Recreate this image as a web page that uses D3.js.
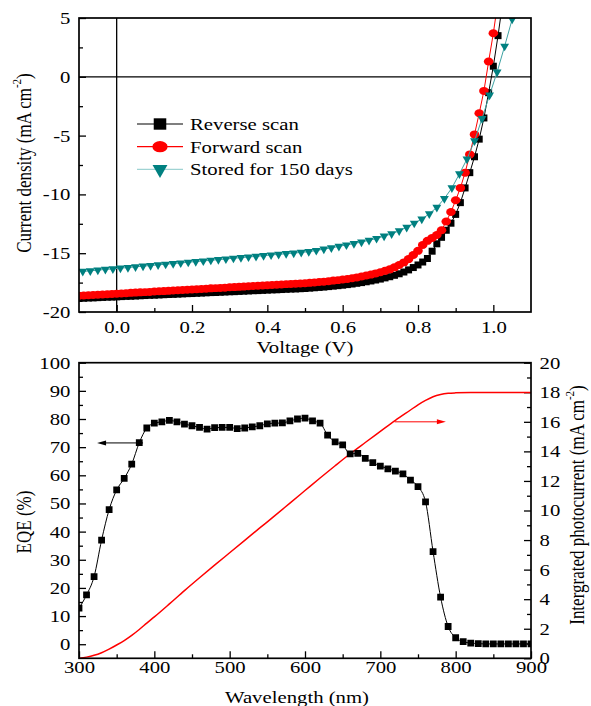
<!DOCTYPE html>
<html>
<head>
<meta charset="utf-8">
<style>
  body { margin: 0; background: #fff; }
  svg text { font-family: "Liberation Serif", "Times New Roman", serif; fill: #000; }
</style>
</head>
<body>
<div id="chart"></div>
<script src="https://cdn.jsdelivr.net/npm/d3@7/dist/d3.min.js"></script>
<script>
// ---- top panel: J-V curves ----
const VOLTAGE = [
  -0.1, -0.0875, -0.075, -0.0625, -0.05, -0.0375, -0.025, -0.0125,
  0, 0.0125, 0.025, 0.0375, 0.05, 0.0625, 0.075, 0.0875,
  0.1, 0.1125, 0.125, 0.1375, 0.15, 0.1625, 0.175, 0.1875,
  0.2, 0.2125, 0.225, 0.2375, 0.25, 0.2625, 0.275, 0.2875,
  0.3, 0.3125, 0.325, 0.3375, 0.35, 0.3625, 0.375, 0.3875,
  0.4, 0.4125, 0.425, 0.4375, 0.45, 0.4625, 0.475, 0.4875,
  0.5, 0.5125, 0.525, 0.5375, 0.55, 0.5625, 0.575, 0.5875,
  0.6, 0.6125, 0.625, 0.6375, 0.65, 0.6625, 0.675, 0.6875,
  0.7, 0.7125, 0.725, 0.7375, 0.75, 0.7625, 0.775, 0.7875,
  0.8, 0.8125, 0.825, 0.8375, 0.85, 0.8625, 0.875, 0.8875,
  0.9, 0.9125, 0.925, 0.9375, 0.95, 0.9625, 0.975, 0.9875,
  1.0, 1.0125, 1.025
];
const REVERSE_J = [
  -18.85, -18.83, -18.81, -18.80, -18.78, -18.76, -18.74, -18.73,
  -18.71, -18.69, -18.67, -18.66, -18.64, -18.62, -18.60, -18.58,
  -18.57, -18.55, -18.53, -18.51, -18.50, -18.48, -18.46, -18.44,
  -18.43, -18.41, -18.39, -18.37, -18.35, -18.34, -18.32, -18.30,
  -18.28, -18.27, -18.25, -18.23, -18.21, -18.19, -18.18, -18.16,
  -18.14, -18.12, -18.11, -18.09, -18.07, -18.05, -18.04, -18.02,
  -18.00, -17.97, -17.94, -17.91, -17.88, -17.84, -17.80, -17.76,
  -17.72, -17.67, -17.62, -17.56, -17.50, -17.43, -17.36, -17.28,
  -17.20, -17.10, -17.00, -16.88, -16.75, -16.60, -16.42, -16.22,
  -16.00, -15.75, -15.45, -14.83, -14.20, -13.65, -13.05, -12.45,
  -11.70, -10.70, -9.45, -8.15, -6.80, -5.30, -3.50, -1.35,
  0.90, 3.50, 6.40
];
const FORWARD_J = [
  -18.62, -18.60, -18.58, -18.55, -18.53, -18.51, -18.49, -18.46,
  -18.44, -18.42, -18.40, -18.37, -18.35, -18.33, -18.31, -18.29,
  -18.26, -18.24, -18.22, -18.20, -18.17, -18.15, -18.13, -18.11,
  -18.08, -18.06, -18.04, -18.02, -17.99, -17.97, -17.95, -17.93,
  -17.90, -17.88, -17.86, -17.84, -17.81, -17.79, -17.77, -17.75,
  -17.72, -17.70, -17.68, -17.66, -17.63, -17.61, -17.59, -17.57,
  -17.55, -17.52, -17.49, -17.45, -17.42, -17.38, -17.33, -17.29,
  -17.24, -17.19, -17.13, -17.06, -16.98, -16.90, -16.82, -16.72,
  -16.62, -16.50, -16.37, -16.20, -16.00, -15.78, -15.50, -15.15,
  -14.80, -14.30, -13.95, -13.70, -13.45, -13.05, -12.30, -11.50,
  -10.50, -9.45, -8.15, -6.60, -4.90, -3.10, -1.20, 1.30,
  3.70, 6.50, 9.50
];
const STORED_V = [
  -0.09, -0.07, -0.05, -0.03, -0.01, 0.01, 0.03, 0.05, 0.07, 0.09,
  0.11, 0.13, 0.15, 0.17, 0.19, 0.21, 0.23, 0.25, 0.27, 0.29,
  0.31, 0.33, 0.35, 0.37, 0.39, 0.41, 0.43, 0.45, 0.47, 0.49,
  0.51, 0.53, 0.55, 0.57, 0.59, 0.61, 0.63, 0.65, 0.67, 0.69,
  0.71, 0.73, 0.75, 0.77, 0.79, 0.81, 0.83, 0.85, 0.87, 0.89,
  0.91, 0.93, 0.95, 0.97, 0.99, 1.01, 1.03, 1.05
];
const STORED_J = [
  -16.55, -16.50, -16.44, -16.38, -16.33, -16.27, -16.22, -16.16, -16.10, -16.05,
  -15.99, -15.94, -15.88, -15.83, -15.77, -15.71, -15.66, -15.60, -15.55, -15.49,
  -15.43, -15.38, -15.32, -15.27, -15.21, -15.15, -15.10, -15.04, -14.99, -14.93,
  -14.87, -14.77, -14.65, -14.55, -14.42, -14.30, -14.18, -14.05, -13.90, -13.75,
  -13.55, -13.35, -13.10, -12.80, -12.45, -12.10, -11.65, -11.10, -10.35, -9.45,
  -8.25, -7.00, -5.45, -3.55, -1.55, 0.40, 2.60, 4.90
];
const JV_NAMES = ["Reverse scan", "Forward scan", "Stored for 150 days"];
const V_TICKS = [0, 0.2, 0.4, 0.6, 0.8, 1.0];
const V_MINOR = [0.1, 0.3, 0.5, 0.7, 0.9];
const J_TICKS = [5, 0, -5, -10, -15, -20];
const J_MINOR = [2.5, -2.5, -7.5, -12.5, -17.5];

// ---- bottom panel: EQE and integrated photocurrent ----
const WAVELENGTH = [
  300, 310, 320, 330, 340, 350, 360, 370, 380, 390,
  400, 410, 420, 430, 440, 450, 460, 470, 480, 490,
  500, 510, 520, 530, 540, 550, 560, 570, 580, 590,
  600, 610, 620, 630, 640, 650, 660, 670, 680, 690,
  700, 710, 720, 730, 740, 750, 760, 770, 780, 790,
  800, 810, 820, 830, 840, 850, 860, 870, 880, 890, 900
];
const EQE = [
  12.8, 17.5, 24.0, 37.0, 47.8, 54.8, 58.9, 64.0, 71.6, 76.8,
  78.5, 79.0, 79.5, 79.0, 78.2, 77.6, 77.0, 76.4, 76.9, 77.0,
  77.0, 76.6, 76.8, 77.2, 77.6, 78.3, 78.5, 78.6, 79.3, 80.0,
  80.3, 79.3, 78.5, 74.3, 71.9, 70.8, 67.6, 67.8, 66.0, 64.5,
  63.3, 62.3, 61.5, 60.5, 58.3, 56.0, 50.6, 32.9, 16.7, 6.3,
  2.3, 0.9, 0.4, 0.2, 0.1, 0.1, 0.1, 0.1, 0.1, 0.1, 0.1
];
const PHOTO_WL = [
  300, 310, 320, 330, 340, 350, 360, 370, 380, 390, 400,
  420, 440, 460, 480, 500, 520, 540, 560, 580, 600,
  620, 640, 660, 680, 700, 720, 740, 750, 760, 770,
  780, 790, 800, 820, 900
];
const PHOTO_J = [
  0, 0.08, 0.2, 0.38, 0.62, 0.9, 1.2, 1.55, 1.95, 2.38, 2.8,
  3.68, 4.58, 5.45, 6.3, 7.14, 7.98, 8.82, 9.65, 10.5, 11.35,
  12.2, 13.03, 13.84, 14.6, 15.35, 16.1, 16.8, 17.15, 17.45, 17.7,
  17.85, 17.93, 17.96, 17.98, 17.98
];
const WL_TICKS = [300, 400, 500, 600, 700, 800, 900];
const WL_MINOR = [350, 450, 550, 650, 750, 850];
const EQE_TICKS = [0, 10, 20, 30, 40, 50, 60, 70, 80, 90, 100];
const EQE_MINOR = [5, 15, 25, 35, 45, 55, 65, 75, 85, 95];
const PC_TICKS = [0, 2, 4, 6, 8, 10, 12, 14, 16, 18, 20];
const PC_MINOR = [1, 3, 5, 7, 9, 11, 13, 15, 17, 19];
// arrows: [from wavelength, to wavelength, level]
const EQE_ARROW = [385, 324, 71.5];
const PC_ARROW = [719, 787, 16];

const SX = 1.22;   // the source figure is a little wider than tall
const FONT = 17;
const TEAL = "#008080";

const svg = d3.select("#chart").append("svg")
  .attr("width", 591).attr("height", 706);

const defs = svg.append("defs");
defs.append("clipPath").attr("id", "clipTop")
  .append("rect").attr("x", 79).attr("y", 18).attr("width", 452).attr("height", 294);
defs.append("clipPath").attr("id", "clipBot")
  .append("rect").attr("x", 79).attr("y", 362.7).attr("width", 452).attr("height", 295.6);

function styleAxis(g) {
  g.select(".domain").remove();
  g.selectAll(".tick line").attr("stroke", "#000").attr("stroke-width", 1.3);
  g.selectAll(".tick text")
    .attr("fill", "#000")
    .attr("font-size", FONT)
    .attr("font-family", "'Liberation Serif', serif")
    .attr("transform", "scale(" + SX + ",1)");
}

function addAxis(axis, tx, ty) {
  svg.append("g")
    .attr("transform", "translate(" + tx + "," + ty + ")")
    .call(axis)
    .call(styleAxis);
}

// text stretched horizontally like the source
function addText(x, y, rot, anchor) {
  return svg.append("text")
    .attr("transform", "translate(" + x + "," + y + ") scale(" + SX + ",1)" + (rot ? " rotate(" + rot + ")" : ""))
    .attr("text-anchor", anchor || "middle")
    .attr("font-size", FONT);
}

// ================= top panel =================
const jx = d3.scaleLinear().domain([-0.1, 1.1]).range([79, 531]);
const jy = d3.scaleLinear().domain([-20, 5]).range([312, 18]);

// zero lines
svg.append("line").attr("x1", jx(-0.1)).attr("x2", jx(1.1)).attr("y1", jy(0)).attr("y2", jy(0))
  .attr("stroke", "#000").attr("stroke-width", 1.3);
svg.append("line").attr("x1", jx(0)).attr("x2", jx(0)).attr("y1", jy(5)).attr("y2", jy(-20))
  .attr("stroke", "#000").attr("stroke-width", 1.3);

addAxis(d3.axisLeft(jy).tickValues(J_TICKS).tickSize(-7).tickPadding(7).tickFormat(d => String(d)), 79, 0);
addAxis(d3.axisLeft(jy).tickValues(J_MINOR).tickSize(-4).tickFormat(""), 79, 0);
addAxis(d3.axisBottom(jx).tickValues(V_TICKS).tickSize(-7).tickPadding(9).tickFormat(d => d.toFixed(1)), 0, 312);
addAxis(d3.axisBottom(jx).tickValues(V_MINOR).tickSize(-4).tickFormat(""), 0, 312);

const jvLayer = svg.append("g").attr("clip-path", "url(#clipTop)");

const series = [
  { v: VOLTAGE, j: REVERSE_J, line: "#000", fill: "#000", sym: d3.symbolSquare, size: 49, rot: 0, sx: 1 },
  { v: VOLTAGE, j: FORWARD_J, line: "#ff0000", fill: "#ff0000", sym: d3.symbolCircle, size: 50, rot: 0, sx: 1.2 },
  { v: STORED_V, j: STORED_J, line: "#3fa3a3", fill: TEAL, sym: d3.symbolTriangle, size: 34, rot: 180, sx: 1 }
];

series.forEach(s => {
  const pts = s.v.map((v, i) => [v, s.j[i]]);
  jvLayer.append("path")
    .datum(pts)
    .attr("fill", "none")
    .attr("stroke", s.line)
    .attr("stroke-width", 1)
    .attr("d", d3.line().x(d => jx(d[0])).y(d => jy(d[1])));
  jvLayer.selectAll(null)
    .data(pts)
    .enter()
    .append("path")
    .attr("transform", d => "translate(" + jx(d[0]) + "," + jy(d[1]) + ") scale(" + s.sx + ",1) rotate(" + s.rot + ")")
    .attr("fill", s.fill)
    .attr("d", d3.symbol().type(s.sym).size(s.size)());
});

svg.append("rect").attr("x", 79).attr("y", 18).attr("width", 452).attr("height", 294)
  .attr("fill", "none").attr("stroke", "#000").attr("stroke-width", 1.7);

// legend
const legendSym = [
  { sym: d3.symbolSquare, size: 130, rot: 0, sx: 1.1 },
  { sym: d3.symbolCircle, size: 100, rot: 0, sx: 1.35 },
  { sym: d3.symbolTriangle, size: 96, rot: 180, sx: 1 }
];
JV_NAMES.forEach((name, i) => {
  const y = 124 + i * 22.7;
  svg.append("line").attr("x1", 137).attr("x2", 183).attr("y1", y).attr("y2", y)
    .attr("stroke", i === 2 ? "#9fd3d3" : series[i].line).attr("stroke-width", 1.2);
  svg.append("path")
    .attr("transform", "translate(160," + y + ") scale(" + legendSym[i].sx + ",1) rotate(" + legendSym[i].rot + ")")
    .attr("fill", series[i].fill)
    .attr("d", d3.symbol().type(legendSym[i].sym).size(legendSym[i].size)());
  addText(190, y + 6, 0, "start").text(name);
});

// axis titles
addText(305, 353, 0).text("Voltage (V)");
const yt = addText(31, 163, -90);
yt.append("tspan").text("Current density (mA cm");
yt.append("tspan").attr("font-size", 11).attr("dy", "-0.75em").text("-2");
yt.append("tspan").attr("dy", "0.5em").text(")");

// ================= bottom panel =================
const wx = d3.scaleLinear().domain([300, 900]).range([79, 531]);
const ey = d3.scaleLinear().domain([-5, 100]).range([658.3, 362.7]);
const py = d3.scaleLinear().domain([0, 20]).range([658.3, 362.7]);

addAxis(d3.axisLeft(ey).tickValues(EQE_TICKS).tickSize(-7).tickPadding(7).tickFormat(d => String(d)), 79, 0);
addAxis(d3.axisLeft(ey).tickValues(EQE_MINOR).tickSize(-4).tickFormat(""), 79, 0);
addAxis(d3.axisRight(py).tickValues(PC_TICKS).tickSize(-7).tickPadding(7).tickFormat(d => String(d)), 531, 0);
addAxis(d3.axisRight(py).tickValues(PC_MINOR).tickSize(-4).tickFormat(""), 531, 0);
addAxis(d3.axisBottom(wx).tickValues(WL_TICKS).tickSize(-7).tickPadding(3).tickFormat(d => String(d)), 0, 658.3);
addAxis(d3.axisBottom(wx).tickValues(WL_MINOR).tickSize(-4).tickFormat(""), 0, 658.3);

const eqeLayer = svg.append("g").attr("clip-path", "url(#clipBot)");

eqeLayer.append("path")
  .datum(PHOTO_WL.map((w, i) => [w, PHOTO_J[i]]))
  .attr("fill", "none").attr("stroke", "#ff0000").attr("stroke-width", 1.5)
  .attr("d", d3.line().curve(d3.curveMonotoneX).x(d => wx(d[0])).y(d => py(d[1])));

const eqePts = WAVELENGTH.map((w, i) => [w, EQE[i]]);
eqeLayer.append("path")
  .datum(eqePts)
  .attr("fill", "none").attr("stroke", "#000").attr("stroke-width", 1)
  .attr("d", d3.line().curve(d3.curveMonotoneX).x(d => wx(d[0])).y(d => ey(d[1])));
eqeLayer.selectAll(null)
  .data(eqePts)
  .enter()
  .append("path")
  .attr("transform", d => "translate(" + wx(d[0]) + "," + ey(d[1]) + ")")
  .attr("fill", "#000")
  .attr("d", d3.symbol().type(d3.symbolSquare).size(46)());

// arrows
function arrow(a, yScale, color) {
  const x1 = wx(a[0]), x2 = wx(a[1]), y = yScale(a[2]);
  const dir = x2 > x1 ? 1 : -1;
  svg.append("line").attr("x1", x1).attr("x2", x2 - dir * 6).attr("y1", y).attr("y2", y)
    .attr("stroke", color).attr("stroke-width", 1);
  svg.append("path")
    .attr("d", "M" + x2 + "," + y + "L" + (x2 - dir * 9) + "," + (y - 2.5) + "L" + (x2 - dir * 9) + "," + (y + 2.5) + "Z")
    .attr("fill", color);
}
arrow(EQE_ARROW, ey, "#000");
arrow(PC_ARROW, py, "#ff0000");

svg.append("rect").attr("x", 79).attr("y", 362.7).attr("width", 452).attr("height", 295.6)
  .attr("fill", "none").attr("stroke", "#000").attr("stroke-width", 1.7);

addText(297, 703, 0).text("Wavelength (nm)");
addText(31, 522, -90).text("EQE (%)");
const rt = addText(584, 505, -90);
rt.append("tspan").text("Intergrated photocurrent (mA cm");
rt.append("tspan").attr("font-size", 11).attr("dy", "-0.75em").text("-2");
rt.append("tspan").attr("dy", "0.5em").text(")");
</script>
</body>
</html>
